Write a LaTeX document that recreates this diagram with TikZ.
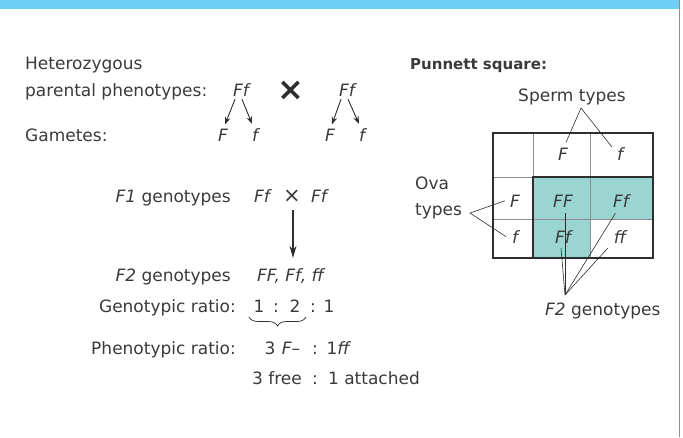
\documentclass[tikz,border=0pt]{standalone}
\usepackage{fontspec}
\setmainfont{DejaVu Sans}[ItalicFont={DejaVu Sans Oblique},BoldFont={DejaVu Sans Bold},BoldItalicFont={DejaVu Sans Bold Oblique}]
\usetikzlibrary{arrows.meta,calc,decorations.pathreplacing}
\definecolor{inkgray}{HTML}{3A3A3A}
\definecolor{lineink}{HTML}{2E2E2E}
\definecolor{gridgray}{HTML}{8E8E8E}
\definecolor{cellteal}{HTML}{9AD5D1}
\definecolor{barblue}{HTML}{6DCFF6}

\begin{document}
\begin{tikzpicture}[x=1pt, y=-1pt, font=\fontsize{17}{20}\selectfont, text=inkgray,
  txt/.style={inner sep=1pt, anchor=base},
  lbl/.style={inner sep=1pt, anchor=base west},
  rlbl/.style={inner sep=1pt, anchor=base east},
  gene/.style={inner sep=1pt, anchor=base, font=\fontsize{17}{20}\selectfont\itshape},
  gamarrow/.style={draw=lineink, line width=0.9pt, -{Stealth[length=7.5pt,width=5.5pt]}},
  bigarrow/.style={draw=lineink, line width=1.4pt, -{Stealth[length=12pt,width=7pt]}},
  lead/.style={draw=lineink, line width=0.6pt}]
% y runs downwards: one unit is one pixel of the 683 x 437 frame
\useasboundingbox (0,0) rectangle (683,437);
\fill[barblue] (0,0) rectangle (679,9);
\draw[gridgray, line width=1pt] (679.5,0) -- (679.5,437);

% parental cross and gametes
\node[lbl] (het) at (24,69) {Heterozygous};
\node[lbl] (par) at (24,96) {parental phenotypes:};
\node[gene] (pA) at (241,96) {Ff};
\node[inner sep=0, text=lineink] (px) at (291,91) {\fontsize{32}{32}\selectfont\bfseries ×};
\node[gene] (pB) at (347,96) {Ff};
\node[lbl] (gam) at (24,141) {Gametes:};
\foreach \n/\t/\x in {gA1/F/223, gA2/f/255, gB1/F/330, gB2/f/362}
  \node[gene] (\n) at (\x,141) {\t};
\draw[gamarrow] ($(pA.south)+(-6,2)$) -- ($(gA1.north)+(2,-3)$);
\draw[gamarrow] ($(pA.south)+(1,2)$) -- ($(gA2.north)+(-3,-3)$);
\draw[gamarrow] ($(pB.south)+(-6,2)$) -- ($(gB1.north)+(2,-3)$);
\draw[gamarrow] ($(pB.south)+(1,2)$) -- ($(gB2.north)+(-3,-3)$);

% F1 to F2
\node[rlbl] (f1lab) at (232,202) {{\itshape F1} genotypes};
\node[gene] (f1A) at (262,202) {Ff};
\node[inner sep=0] (f1x) at (292,196) {\fontsize{21}{21}\selectfont ×};
\node[gene] (f1B) at (319,202) {Ff};
\node[rlbl] (f2lab) at (232,281) {{\itshape F2} genotypes};
\node[gene] (f2row) at (290.5,281) {FF, Ff, ff};
\draw[bigarrow] ($(f1x.south)+(1,8)$) -- ($(f2row.north)+(2.5,-9)$);

% ratios
\node[rlbl] (gr) at (237,312) {Genotypic ratio:};
\foreach \t/\x [count=\i] in {1/259, :/276, 2/295, :/313, 1/329}
  \node[txt] (g\i) at (\x,312) {\t};
\coordinate (brR) at (306,317);
\coordinate (brL) at (249,317);
\draw[lineink, line width=0.7pt, decorate, decoration={brace, amplitude=9pt}] (brR) -- (brL);
\node[rlbl] (pr) at (237,354) {Phenotypic ratio:};
\node[txt] (p3) at (270,354) {3};
\node[txt] (pF) at (291,354) {\textit{F}–};
\node[txt] (pc) at (315,354) {:};
\node[txt] (p1) at (339,354) {1\textit{ff}};
\node[txt] (fr3) at (277,384) {3 free};
\node[txt] (frc) at (315,384) {:};
\node[txt] (fr1) at (374,384) {1 attached};

% Punnett square
\node[inner sep=1pt, anchor=base west, font=\fontsize{15}{18}\selectfont\bfseries] (pun) at (409,69) {Punnett square:};
\fill[cellteal] (533,177) rectangle (653,219);
\fill[cellteal] (533,219) rectangle (590,258);
\draw[gridgray, line width=0.8pt] (533,133) -- (533,258) (590,133) -- (590,258)
  (493,177) -- (653,177) (493,219) -- (653,219);
\draw[lineink, line width=1.4pt] (533,258) -- (533,177) -- (653,177);
\draw[lineink, line width=1.4pt] (493,133) rectangle (653,258);
\foreach \n/\t/\x/\y in {sF/F/563/160, sf/f/620/160, oF/F/515/207, cFF/FF/563/207,
                         cFf/Ff/621/207, of/f/515/243, cFg/Ff/563/243, cff/ff/620/243}
  \node[gene] (\n) at (\x,\y) {\t};
\node[lbl] (sperm) at (517,101) {Sperm types};
\node[lbl] (ova) at (414,189) {Ova};
\node[lbl] (ovat) at (414,215) {types};
\node[lbl] (f2pun) at (544,315) {{\itshape F2} genotypes};
\coordinate (spJ) at (581,108);
\coordinate (oJ) at (470,213);
\coordinate (f2J) at (565,295);
\draw[lead] ($(sF.north)+(3,-4)$) -- (spJ) -- ($(sf.north west)+(-4,1)$);
\draw[lead] ($(oF.west)+(-4,0)$) -- (oJ) -- ($(of.west)+(-5,0)$);
\draw[lead] (f2J) -- ($(cFF.south)+(2,5)$);
\draw[lead] (f2J) -- ($(cFg.south)+(-2,4)$);
\draw[lead] (f2J) -- ($(cFf.south west)+(3.5,5)$);
\draw[lead] (f2J) -- ($(cff.south west)+(-5,4)$);
\end{tikzpicture}
\end{document}
